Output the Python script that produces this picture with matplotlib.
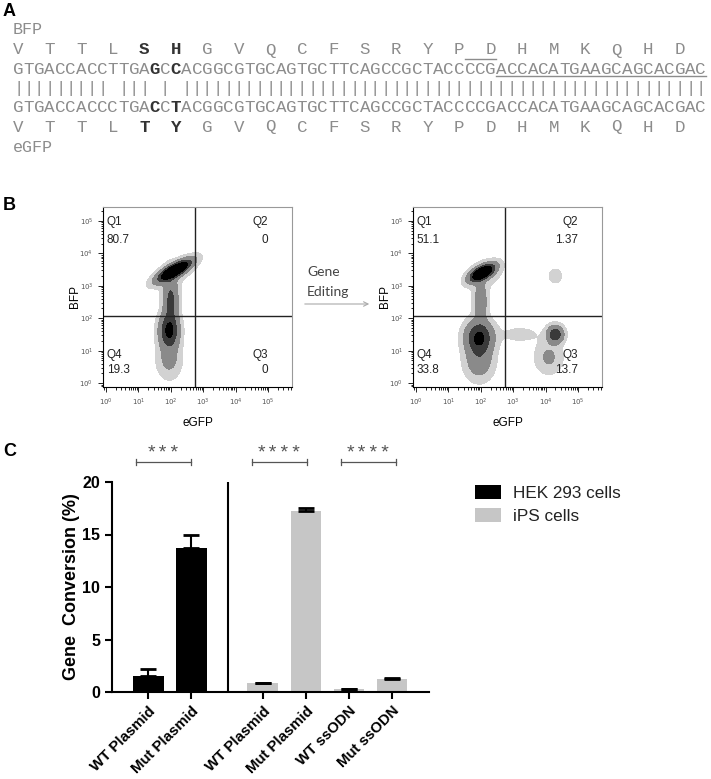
import numpy as np
import matplotlib.pyplot as plt
from matplotlib.patches import Patch, FancyArrowPatch
from matplotlib.ticker import LogLocator, NullFormatter

W, H = 711, 779

# ---- panel A: BFP / eGFP sequence alignment
bfp_dna = "GTGACCACCTTGAGCCACGGCGTGCAGTGCTTCAGCCGCTACCCCGACCACATGAAGCAGCACGAC"
egfp_dna = "GTGACCACCCTGACCTACGGCGTGCAGTGCTTCAGCCGCTACCCCGACCACATGAAGCAGCACGAC"
bfp_aa = "VTTLSHGVQCFSRYPDHMKQHD"
egfp_aa = "VTTLTYGVQCFSRYPDHMKQHD"
bold_nt = [13, 15]
bold_codons = [4, 5]
overline_nt = (43, 46)
underline_nt = (46, 66)

# ---- panel B: flow cytometry (before / after gene editing)
quad_names = ["Q1", "Q2", "Q3", "Q4"]
before_pct = ["80.7", "0", "0", "19.3"]
after_pct = ["51.1", "1.37", "13.7", "33.8"]
gate_x = 10 ** 2.75   # eGFP gate
gate_y = 10 ** 2.07   # BFP gate
# populations: log10 eGFP, log10 BFP, sd x, sd y, correlation, weight
before_pops = [
    (2.12, 3.47, 0.30, 0.19, 0.78, 1.00),
    (2.10, 3.40, 0.40, 0.30, 0.50, 0.05),
    (2.00, 2.55, 0.14, 0.45, 0.00, 0.30),
    (1.95, 1.60, 0.18, 0.32, 0.00, 0.50),
    (1.95, 0.75, 0.22, 0.35, 0.00, 0.12),
]
after_pops = [
    (2.05, 3.40, 0.22, 0.15, 0.60, 1.00),
    (2.10, 3.35, 0.38, 0.30, 0.30, 0.05),
    (2.00, 2.50, 0.13, 0.40, 0.00, 0.18),
    (1.95, 1.40, 0.25, 0.30, 0.00, 0.50),
    (1.95, 0.70, 0.26, 0.35, 0.00, 0.18),
    (4.30, 1.50, 0.15, 0.16, 0.00, 0.40),
    (4.10, 0.80, 0.25, 0.30, 0.00, 0.10),
    (4.30, 3.30, 0.28, 0.32, 0.00, 0.025),
    (3.20, 1.50, 0.50, 0.20, 0.00, 0.03),
]

# ---- panel C: gene conversion bar chart
groups = ["WT Plasmid", "Mut Plasmid", "WT Plasmid", "Mut Plasmid", "WT ssODN", "Mut ssODN"]
cell_type = ["HEK 293 cells", "HEK 293 cells", "iPS cells", "iPS cells", "iPS cells", "iPS cells"]
conversion = [1.5, 13.75, 0.85, 17.2, 0.25, 1.25]
sem = [0.7, 1.25, 0.05, 0.3, 0.05, 0.05]
sig_from = [-0.28, 2.41, 4.48]
sig_to = [1.0, 3.69, 5.77]
sig_text = ["***", "****", "****"]
colors = {"HEK 293 cells": "black", "iPS cells": "#c6c6c6"}


def px(x, y):
    return x / W, 1 - y / H


fig = plt.figure(figsize=(W / 100, H / 100), dpi=100)

# ---------------- A
gray = "#8c8c8c"
mono = "Liberation Mono"
cw = 10.5
x0 = 13


def cx(i):
    return x0 + (i + 0.5) * cw


fig.text(*px(3, 12), "A", fontsize=13, fontweight="bold", va="center", family="Liberation Sans")
fig.text(*px(13, 30), "BFP", fontsize=12, color=gray, va="center", family=mono)
fig.text(*px(13, 147), "eGFP", fontsize=12, color=gray, va="center", family=mono)

match = "".join("|" if a == b else " " for a, b in zip(bfp_dna, egfp_dna))
for i in range(len(bfp_dna)):
    for row_y, seq in ((69, bfp_dna), (107, egfp_dna)):
        b = i in bold_nt
        fig.text(*px(cx(i), row_y), seq[i], fontsize=12.6, family=mono, ha="center", va="center",
                 color="#333333" if b else gray, fontweight="bold" if b else "normal")
    if match[i] == "|":
        fig.text(*px(cx(i), 88), "|", fontsize=12.6, family=mono, ha="center", va="center", color=gray)
for k in range(len(bfp_aa)):
    b = k in bold_codons
    for row_y, aa in ((50, bfp_aa), (127, egfp_aa)):
        fig.text(*px(cx(3 * k), row_y), aa[k], fontsize=12.6, family=mono, ha="center", va="center",
                 color="#333333" if b else gray, fontweight="bold" if b else "normal")
fig.add_artist(plt.Line2D([px(x0 + overline_nt[0] * cw, 0)[0], px(x0 + overline_nt[1] * cw, 0)[0]],
                          [px(0, 59)[1]] * 2, color=gray, lw=1))
fig.add_artist(plt.Line2D([px(x0 + underline_nt[0] * cw, 0)[0], px(x0 + underline_nt[1] * cw, 0)[0]],
                          [px(0, 76)[1]] * 2, color=gray, lw=1))

# ---------------- B
fig.text(*px(3, 205), "B", fontsize=13, fontweight="bold", va="center", family="Liberation Sans")

gx = np.linspace(-0.12, 5.76, 320)
gy = np.linspace(-0.14, 5.45, 320)
GX, GY = np.meshgrid(gx, gy)


def density(pops):
    z = np.zeros_like(GX)
    for mx, my, sx, sy, r, w in pops:
        dx = (GX - mx) / sx
        dy = (GY - my) / sy
        z += w * np.exp(-0.5 * (dx * dx - 2 * r * dx * dy + dy * dy) / (1 - r * r))
    return z


def flow_plot(left, pops, pct):
    ax = fig.add_axes([left / W, 1 - 387 / H, 189 / W, 180 / H])
    ax.set_xscale("log")
    ax.set_yscale("log")
    ax.contourf(10 ** GX, 10 ** GY, density(pops), levels=[0.02, 0.08, 0.25, 0.45, 100],
                colors=["#d2d2d2", "#8a8a8a", "#3a3a3a", "#000000"])
    ax.set_xlim(10 ** -0.09, 10 ** 5.74)
    ax.set_ylim(10 ** -0.12, 10 ** 5.43)
    ax.axvline(gate_x, color="#222222", lw=1)
    ax.axhline(gate_y, color="#222222", lw=1)
    for axis in (ax.xaxis, ax.yaxis):
        axis.set_major_locator(LogLocator(base=10, numticks=10))
        axis.set_minor_locator(LogLocator(base=10, subs=np.arange(2, 10), numticks=10))
        axis.set_minor_formatter(NullFormatter())
    ax.tick_params(which="both", direction="out", width=0.6, labelsize=5, labelcolor="#555555",
                   top=False, right=False)
    ax.tick_params(which="major", length=3.5)
    ax.tick_params(which="minor", length=1.8)
    for s in ("top", "right"):
        ax.spines[s].set_color("#999999")
    for s in ax.spines.values():
        s.set_linewidth(0.8)
    ax.set_ylabel("BFP", fontsize=8.5, family="Liberation Sans")
    ax.set_xlabel("eGFP", fontsize=8.5, family="Liberation Sans")
    ax.yaxis.set_label_coords(-0.115, 0.5)
    ax.xaxis.set_label_coords(0.5, -0.165)
    kw = dict(transform=ax.transAxes, fontsize=8.5, family="Liberation Sans", va="center", color="#222222")
    ax.text(0.021, 0.917, quad_names[0], **kw)
    ax.text(0.021, 0.817, pct[0], **kw)
    ax.text(0.873, 0.917, quad_names[1], ha="right", **kw)
    ax.text(0.873, 0.817, pct[1], ha="right", **kw)
    ax.text(0.873, 0.178, quad_names[2], ha="right", **kw)
    ax.text(0.873, 0.094, pct[2], ha="right", **kw)
    ax.text(0.021, 0.178, quad_names[3], **kw)
    ax.text(0.021, 0.094, pct[3], **kw)
    return ax


flow_plot(103, before_pops, before_pct)
flow_plot(413, after_pops, after_pct)

fig.text(*px(307, 272), "Gene", fontsize=10, family="Lato", color="#444444", va="center")
fig.text(*px(307, 292), "Editing", fontsize=10, family="Lato", color="#444444", va="center")
fig.add_artist(FancyArrowPatch(px(302, 304), px(372, 304), transform=fig.transFigure,
                               arrowstyle="->", mutation_scale=8, color="#aaaaaa", lw=0.8))

# ---------------- C
fig.text(*px(3, 452), "C", fontsize=13, fontweight="bold", va="center", family="Liberation Sans")

gap = 0.67
xpos = np.arange(len(groups)) + np.where(np.arange(len(groups)) >= 2, gap, 0)
ax = fig.add_axes([112 / W, 1 - 692 / H, 317 / W, 210 / H])
bar_colors = [colors[c] for c in cell_type]
ax.bar(xpos, conversion, width=0.72, color=bar_colors, zorder=2)
ax.errorbar(xpos, conversion, yerr=[np.zeros(len(sem)), sem], fmt="none", ecolor="black",
            elinewidth=1.5, capsize=6, capthick=2, zorder=3)
ax.set_xlim(-0.84, 6.53)
ax.set_ylim(0, 20)
ax.axvline(1.86, color="black", lw=1.5)
ax.set_yticks([0, 5, 10, 15, 20])
ax.set_xticks(xpos)
ax.set_xticklabels(groups, rotation=45, ha="right", rotation_mode="anchor",
                   fontsize=10.8, fontweight="bold", family="Liberation Sans")
for t in ax.get_yticklabels():
    t.set_fontweight("bold")
    t.set_fontsize(11.5)
    t.set_family("Liberation Sans")
ax.tick_params(direction="out", width=1.5, length=5)
ax.spines["top"].set_visible(False)
ax.spines["right"].set_visible(False)
ax.spines["left"].set_linewidth(1.5)
ax.spines["bottom"].set_linewidth(1.5)
ax.set_ylabel("Gene  Conversion (%)", fontsize=13, fontweight="bold", family="Liberation Sans")
ax.yaxis.set_label_coords(-0.10, 0.5)

for a, b, s in zip(sig_from, sig_to, sig_text):
    ax.plot([a, b], [21.9, 21.9], color="#555555", lw=0.9, clip_on=False)
    for e in (a, b):
        ax.plot([e, e], [21.65, 22.15], color="#555555", lw=0.9, clip_on=False)
    ax.text((a + b) / 2, 22.0, s, ha="center", va="bottom", fontsize=14, family=mono,
            color="#555555", clip_on=False)

handles = [Patch(facecolor=colors[c], edgecolor="none", label=c) for c in ["HEK 293 cells", "iPS cells"]]
fig.legend(handles=handles, loc="upper left", bbox_to_anchor=px(475, 485), frameon=False,
           borderpad=0, borderaxespad=0, handlelength=1.55, handleheight=0.85, handletextpad=0.65,
           labelspacing=0.45, prop={"family": "Liberation Sans", "size": 12.3}, labelcolor="#222222")

fig.savefig("out.png", dpi=100)
